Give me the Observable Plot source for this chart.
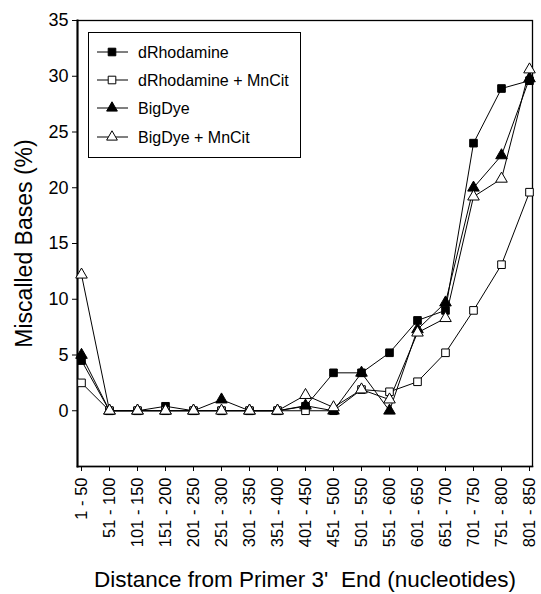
<!DOCTYPE html>
<html>
<head>
<meta charset="utf-8">
<script src="https://cdn.jsdelivr.net/npm/d3@7"></script>
<script src="https://cdn.jsdelivr.net/npm/@observablehq/plot@0.6"></script>
<style>
  html, body { margin: 0; padding: 0; background: #fff; }
  #chart { width: 541px; height: 594px; }
</style>
</head>
<body>
<div id="chart"></div>
<script>
const categories = ["1 - 50","51 - 100","101 - 150","151 - 200","201 - 250","251 - 300","301 - 350","351 - 400","401 - 450","451 - 500","501 - 550","551 - 600","601 - 650","651 - 700","701 - 750","751 - 800","801 - 850"];
const seriesNames = ["dRhodamine", "dRhodamine + MnCit", "BigDye", "BigDye + MnCit"];
const dRhodamine      = [4.5, 0, 0, 0.4, 0, 0, 0, 0, 0.4, 3.4, 3.4, 5.2, 8.1, 9.0, 24.0, 28.9, 29.6];
const dRhodamineMnCit = [2.5, 0, 0, 0, 0, 0, 0, 0, 0, 0, 1.9, 1.7, 2.6, 5.2, 9.0, 13.1, 19.6];
const bigDye          = [5.0, 0, 0, 0, 0, 1.0, 0, 0, 0.45, 0, 3.4, 0, 7.3, 9.7, 20.0, 22.9, 29.8];
const bigDyeMnCit     = [12.2, 0, 0, 0, 0, 0, 0, 0, 1.4, 0.3, 1.9, 1.0, 7.0, 8.3, 19.2, 20.8, 30.6];
const yTicks = [0, 5, 10, 15, 20, 25, 30, 35];

const seriesValues = [dRhodamine, dRhodamineMnCit, bigDye, bigDyeMnCit];
const styles = [
  {symbol: "square", fill: "black"},
  {symbol: "square", fill: "white"},
  {symbol: "triangle", fill: "black"},
  {symbol: "triangle", fill: "white"}
];
const rows = seriesNames.flatMap((s, i) => categories.map((c, j) => ({series: s, cat: c, value: seriesValues[i][j]})));

const font = "'Liberation Sans', Arial, Helvetica, sans-serif";

const marks = [
  Plot.frame({stroke: "black", strokeWidth: 1.3}),
  Plot.frame({anchor: "left", stroke: "black", strokeWidth: 2}),
  Plot.frame({anchor: "bottom", stroke: "black", strokeWidth: 1.6}),
  Plot.axisY({ticks: yTicks, tickSize: 5, tickPadding: 4, fontSize: 18, label: null, stroke: "black"}),
  Plot.axisX({tickSize: 5, tickRotate: -90, tickPadding: 6, fontSize: 16.5, label: null}),
  Plot.line(rows, {x: "cat", y: "value", z: "series", stroke: "black", strokeWidth: 1})
];
seriesNames.forEach((s, i) => {
  marks.push(Plot.dot(rows.filter(r => r.series === s), {
    x: "cat", y: "value", symbol: styles[i].symbol, r: 4.3,
    fill: styles[i].fill, stroke: "black", strokeWidth: 1
  }));
});
marks.push(Plot.text(["Miscalled Bases (%)"], {frameAnchor: "left", textAnchor: "middle", lineAnchor: "middle", rotate: -90, dx: -53, fontSize: 23, fill: "black"}));
marks.push(Plot.text(["Distance from Primer 3'  End (nucleotides)"], {frameAnchor: "bottom", textAnchor: "middle", lineAnchor: "middle", dy: 113, fontSize: 22.5, fill: "black"}));

const chart = Plot.plot({
  width: 541,
  height: 594,
  marginLeft: 77,
  marginRight: 9,
  marginTop: 20,
  marginBottom: 128,
  style: {fontFamily: font, color: "black", background: "white"},
  x: {type: "point", domain: categories, padding: 0},
  y: {domain: [-5, 35]},
  marks
});
document.getElementById("chart").appendChild(chart);

// Legend inside the frame
const svg = d3.select(chart);
const lg = svg.append("g").attr("font-family", font).attr("text-anchor", "start");
lg.append("rect").attr("x", 88.5).attr("y", 32.5).attr("width", 212).attr("height", 125)
  .attr("fill", "white").attr("stroke", "black").attr("stroke-width", 1);
const rowY = [52, 80, 108, 137];
seriesNames.forEach((s, i) => {
  const y = rowY[i];
  lg.append("line").attr("x1", 97).attr("x2", 128).attr("y1", y).attr("y2", y).attr("stroke", "black");
  const sym = styles[i].symbol === "square" ? d3.symbolSquare : d3.symbolTriangle;
  lg.append("path").attr("d", d3.symbol(sym, styles[i].symbol === "square" ? 58 : 50)())
    .attr("transform", `translate(112,${y})`)
    .attr("fill", styles[i].fill).attr("stroke", "black");
  lg.append("text").attr("x", 138).attr("y", y).attr("dy", "0.35em").attr("font-size", 16).attr("fill", "black").attr("text-anchor", "start").text(s);
});
</script>
</body>
</html>
